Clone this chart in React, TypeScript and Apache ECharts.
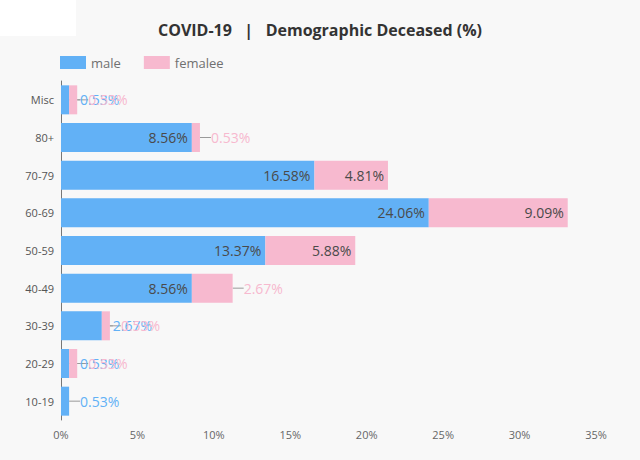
import React, { useEffect, useRef } from "react";
import * as echarts from "echarts";

const categories = ["Misc", "80+", "70-79", "60-69", "50-59", "40-49", "30-39", "20-29", "10-19"];
const maleValues = [0.53, 8.56, 16.58, 24.06, 13.37, 8.56, 2.67, 0.53, 0.53];
const femaleValues = [0.53, 0.53, 4.81, 9.09, 5.88, 2.67, 0.53, 0.53, 0];
const seriesNames = ["male", "femalee"];
const xTicks = { min: 0, max: 35, interval: 5 };

const BLUE = "#62b1f6";
const PINK = "#f7b9cf";
const FONT = "Open Sans";
const INSIDE_MIN = 3;

function buildData(values: number[], color: string) {
  return values.map((v) => {
    if (v <= 0) return { value: v, label: { show: false } };
    if (v >= INSIDE_MIN) {
      return {
        value: v,
        label: { show: true, position: "insideRight", distance: 4, color: "#4a4a4a" },
      };
    }
    return {
      value: v,
      label: { show: true, position: "right", distance: 0, color: color },
      labelLine: { show: true, lineStyle: { color: "#9a9a9a", width: 1 } },
    };
  });
}

export default function App() {
  const ref = useRef<HTMLDivElement>(null);
  useEffect(() => {
    if (!ref.current) return;
    const chart = echarts.init(ref.current, null, { renderer: "svg" });
    const mkSeries = (name: string, values: number[], color: string) => ({
      name,
      type: "bar",
      stack: "total",
      barWidth: 29,
      itemStyle: { color },
      label: {
        show: true,
        fontFamily: FONT,
        fontSize: 14,
        formatter: (p: any) => `${p.value}%`,
      },
      labelLine: { show: true, lineStyle: { color: "#9a9a9a", width: 1 } },
      labelLayout: (p: any) => {
        const vals = p.seriesIndex === 0 ? maleValues : femaleValues;
        const v = vals[p.dataIndex];
        return v > 0 && v < INSIDE_MIN ? { dx: 11 } : {};
      },
      data: buildData(values, color),
    });
    chart.setOption({
      animation: false,
      backgroundColor: "#f8f8f8",
      textStyle: { fontFamily: FONT },
      graphic: [
        { type: "rect", left: 0, top: 0, z: -10, shape: { width: 76, height: 36 }, style: { fill: "#ffffff" } },
      ],
      title: {
        text: "COVID-19   |   Demographic Deceased (%)",
        left: "center",
        top: 17,
        textStyle: { fontFamily: FONT, fontSize: 16, fontWeight: "bold", color: "#333333" },
      },
      legend: {
        left: 55,
        top: 51,
        icon: "rect",
        itemWidth: 26,
        itemHeight: 13,
        itemGap: 23,
        data: seriesNames,
        textStyle: { fontFamily: FONT, fontSize: 13, color: "#707070" },
      },
      grid: { left: 61, right: 44, top: 81, bottom: 40, containLabel: false },
      xAxis: {
        type: "value",
        min: xTicks.min,
        max: xTicks.max,
        interval: xTicks.interval,
        axisLine: { show: false },
        axisTick: { show: false },
        splitLine: { show: false },
        axisLabel: { formatter: "{value}%", color: "#666666", fontSize: 11, fontFamily: FONT, margin: 9 },
      },
      yAxis: {
        type: "category",
        inverse: true,
        data: categories,
        axisLine: { show: true, lineStyle: { color: "#777777", width: 1 } },
        axisTick: { show: false },
        axisLabel: { color: "#555555", fontSize: 11, fontFamily: FONT, margin: 7 },
      },
      series: [
        mkSeries(seriesNames[0], maleValues, BLUE),
        mkSeries(seriesNames[1], femaleValues, PINK),
      ],
    });
    return () => chart.dispose();
  }, []);
  return (
    <div
      ref={ref}
      style={{ position: "fixed", left: 0, top: 0, width: 640, height: 460 }}
    />
  );
}
